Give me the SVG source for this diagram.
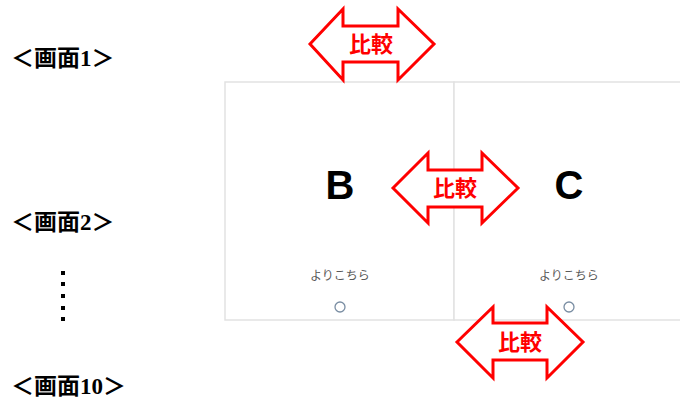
<svg xmlns="http://www.w3.org/2000/svg" width="680" height="400" viewBox="0 0 680 400">
<style>
.lbl{font-family:"Liberation Serif","Noto Sans CJK JP",serif;font-weight:bold;font-size:23px;fill:#000}
.card{fill:#fff;stroke:#e2e2e2;stroke-width:1.5}
.big{font-family:"Liberation Sans","Noto Sans CJK JP",sans-serif;font-weight:bold;font-size:40px;fill:#000;text-anchor:middle}
.small{font-family:"Noto Sans CJK JP",sans-serif;font-size:12px;fill:#5a5a5a;text-anchor:middle}
.radio{fill:#fff;stroke:#7a8ea3;stroke-width:1.3}
.arr{fill:#fff;stroke:#ff0000;stroke-width:3;stroke-linejoin:miter}
.cmp{font-family:"Noto Sans CJK JP",sans-serif;font-weight:bold;font-size:22px;fill:#ff0000;text-anchor:middle}
</style>
<rect width="680" height="400" fill="#fff"/>
<g id="labels">
<text class="lbl" x="11" y="66">＜画面1＞</text>
<text class="lbl" x="11" y="230">＜画面2＞</text>
<text class="lbl" x="11" y="394">＜画面10＞</text>
<g fill="#000">
<rect x="61" y="271" width="4" height="4"/>
<rect x="61" y="282" width="4" height="4"/>
<rect x="61" y="294" width="4" height="4"/>
<rect x="61" y="306" width="4" height="4"/>
<rect x="61" y="317" width="4" height="4"/>
</g>
</g>
<g id="cardB">
<rect class="card" x="225" y="82" width="229" height="238"/>
<text class="big" x="340" y="199">B</text>
<text class="small" x="340" y="280">よりこちら</text>
<circle class="radio" cx="340" cy="307" r="5"/>
</g>
<g id="cardC">
<rect class="card" x="454" y="82" width="240" height="238"/>
<text class="big" x="569" y="199">C</text>
<text class="small" x="569" y="280">よりこちら</text>
<circle class="radio" cx="569" cy="307" r="5"/>
</g>
<g id="connectors">
<g id="cmp1">
<path class="arr" d="M310,44 L343,9 L343,26 L398,26 L398,9 L434,44 L398,80 L398,62 L343,62 L343,80 Z"/>
<text class="cmp" x="371" y="52">比較</text>
</g>
<g id="cmp2">
<path class="arr" d="M393,188 L428,153 L428,170 L482,170 L482,153 L518,188 L482,223 L482,207 L428,207 L428,223 Z"/>
<text class="cmp" x="455" y="196">比較</text>
</g>
<g id="cmp3">
<path class="arr" d="M457,342 L493,307 L493,323 L547,323 L547,307 L583,342 L547,378 L547,360 L493,360 L493,378 Z"/>
<text class="cmp" x="520" y="350">比較</text>
</g>
</g>
</svg>
